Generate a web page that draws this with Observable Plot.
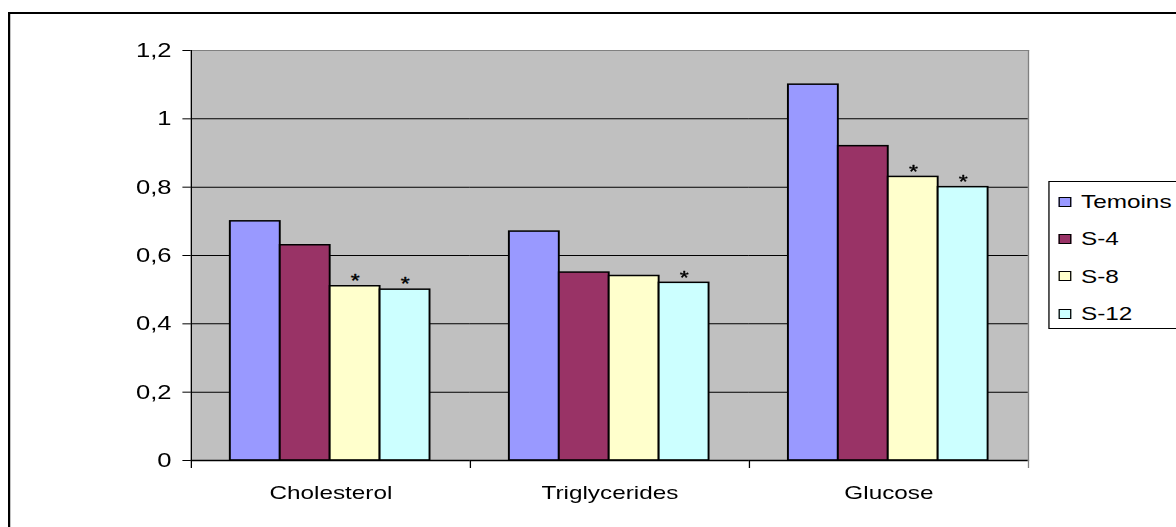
<!DOCTYPE html>
<html><head><meta charset="utf-8">
<script src="https://cdn.jsdelivr.net/npm/d3@7"></script>
<script src="https://cdn.jsdelivr.net/npm/@observablehq/plot@0.6"></script>
<style>
html,body{margin:0;padding:0;background:#fff;overflow:hidden;width:1176px;height:527px;}
#stage{position:absolute;left:0;top:0;width:918.75px;height:527px;transform:scaleX(1.28);transform-origin:0 0;font-family:"Liberation Sans",Arial,sans-serif;color:#000;}
#chart{position:absolute;left:0;top:0;}
#outer{position:absolute;left:6.25px;top:12px;width:1000px;height:600px;border:2px solid #000;box-sizing:border-box;}
#legend{position:absolute;left:818.75px;top:181px;width:140px;height:148px;border:1px solid #000;box-sizing:border-box;padding-top:1px;background:#fff;}
.item{display:flex;align-items:center;height:37.3px;font-size:19px;line-height:1;}
.sw{width:9.4px;height:10px;border:1px solid #000;box-sizing:border-box;margin-left:7.6px;margin-right:7.8px;flex:none;}
</style>
</head>
<body>
<div id="stage">
  <div id="chart"></div>
  <div id="outer"></div>
  <div id="legend"></div>
</div>
<script>
const categories = ["Cholesterol", "Triglycerides", "Glucose"];
const series = ["Temoins", "S-4", "S-8", "S-12"];
const colors = ["#9999FF", "#993366", "#FFFFCC", "#CCFFFF"];
const temoins = [0.70, 0.67, 1.10];
const s4 = [0.63, 0.55, 0.92];
const s8 = [0.51, 0.54, 0.83];
const s12 = [0.50, 0.52, 0.80];
const temoinsMarks = ["", "", ""];
const s4Marks = ["", "", ""];
const s8Marks = ["*", "", "*"];
const s12Marks = ["*", "*", "*"];
const yTicks = [0, 0.2, 0.4, 0.6, 0.8, 1, 1.2];

const seriesValues = [temoins, s4, s8, s12];
const seriesMarks = [temoinsMarks, s4Marks, s8Marks, s12Marks];
const rows = [];
categories.forEach((c, i) => {
  series.forEach((s, j) => {
    rows.push({category: c, series: s, value: seriesValues[j][i], mark: seriesMarks[j][i]});
  });
});

const S = 1.28;
const W = 1176 / S;
const H = 527;
const mTop = 50, mBottom = 67;
const mLeft = 190 / S;
const mRight = W - 1028 / S;
const innerH = H - mTop - mBottom;

const chart = Plot.plot({
  width: W,
  height: H,
  marginLeft: mLeft,
  marginRight: mRight,
  marginTop: mTop,
  marginBottom: mBottom,
  style: {background: "transparent", fontFamily: "'Liberation Sans', Arial, sans-serif", fontSize: "19px", color: "#000", overflow: "visible"},
  fx: {domain: categories, padding: 0, label: null, axis: null},
  x: {domain: series, paddingInner: 0, paddingOuter: 0.75, axis: null},
  y: {domain: [0, 1.2], axis: null},
  color: {domain: series, range: colors},
  marks: [
    Plot.frame({fill: "#C0C0C0", stroke: "#C0C0C0"}),
    Plot.gridY(yTicks.filter(t => t > 0 && t < 1.2), {stroke: "#000", strokeOpacity: 1, strokeWidth: 1}),
    Plot.barY(rows, {fx: "category", x: "series", y: "value", fill: "series", stroke: "#000", strokeWidth: 1.5}),
    Plot.text(rows.filter(d => d.mark), {fx: "category", x: "series", y: "value", text: "mark", dy: -5, fontSize: 18, fill: "#000", stroke: "#000", strokeWidth: 0.4}),
    Plot.ruleY([0], {stroke: "#000", strokeWidth: 1.5}),
    Plot.frame({anchor: "top", stroke: "#808080"}),
    Plot.frame({anchor: "right", stroke: "#808080", facetAnchor: "right"}),
    Plot.frame({anchor: "left", stroke: "#000", facetAnchor: "left"}),
    Plot.frame({anchor: "left", stroke: "#000", insetTop: innerH, insetBottom: -7}),
    Plot.frame({anchor: "right", stroke: "#808080", insetTop: innerH, insetBottom: -7, facetAnchor: "right"}),
    Plot.axisY(yTicks, {anchor: "left", tickSize: 6.5, tickPadding: 9, tickFormat: d => String(d).replace(".", ","), fontSize: 20, label: null}),
    Plot.axisFx({anchor: "bottom", tickSize: 0, tickPadding: 25, fontSize: 19, label: null})
  ]
});
document.getElementById("chart").appendChild(chart);

const legend = document.getElementById("legend");
series.forEach((s, j) => {
  const item = document.createElement("div");
  item.className = "item";
  const sw = document.createElement("span");
  sw.className = "sw";
  sw.style.background = colors[j];
  const label = document.createElement("span");
  label.textContent = s;
  item.appendChild(sw);
  item.appendChild(label);
  legend.appendChild(item);
});
</script>
</body></html>
